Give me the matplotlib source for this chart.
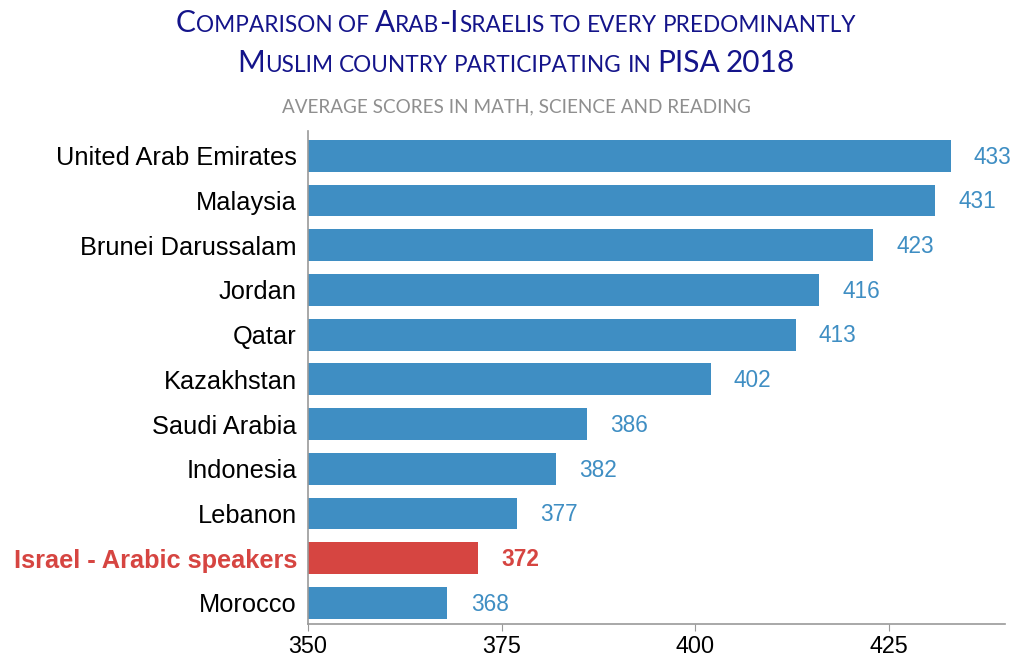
import matplotlib
matplotlib.use("Agg")
import matplotlib.pyplot as plt

# Data (top to bottom)
countries = ["United Arab Emirates", "Malaysia", "Brunei Darussalam", "Jordan", "Qatar",
             "Kazakhstan", "Saudi Arabia", "Indonesia", "Lebanon",
             "Israel - Arabic speakers", "Morocco"]
scores = [433, 431, 423, 416, 413, 402, 386, 382, 377, 372, 368]
highlight = "Israel - Arabic speakers"

BLUE = "#3f8ec3"
RED = "#d64541"
NAVY = "#14148a"
TITLE_FONT = "Lato"

fig = plt.figure(figsize=(10.18, 6.58), dpi=100)
ax = fig.add_axes([0.3026, 0.0517, 0.6844, 0.749])

ypos = list(range(len(countries)))
colors = [RED if c == highlight else BLUE for c in countries]
ax.barh(ypos, [s - 350 for s in scores], left=350, height=0.71, color=colors)

for y, s, c, col in zip(ypos, scores, countries, colors):
    ax.text(s + 3.0, y + 0.03, str(s), va="center", ha="left", color=col,
            fontsize=16.3, fontweight="bold" if c == highlight else "normal",
            family="Liberation Sans", clip_on=False)

ax.set_xlim(350, 440)
ax.set_ylim(10.47, -0.55)
ax.set_xticks([350, 375, 400, 425])
ax.set_yticks(ypos)
ax.set_yticklabels(countries, fontsize=18.3, family="Liberation Sans")
for lbl, c in zip(ax.get_yticklabels(), countries):
    if c == highlight:
        lbl.set_color(RED)
        lbl.set_fontweight("bold")
ax.tick_params(axis="y", length=0, pad=8)
ax.tick_params(axis="x", length=5, color="#999999", labelsize=16.8, pad=3)
for lbl in ax.get_xticklabels():
    lbl.set_family("Liberation Sans")
for side in ["top", "right"]:
    ax.spines[side].set_visible(False)
for side in ["left", "bottom"]:
    ax.spines[side].set_color("#999999")
    ax.spines[side].set_linewidth(1.2)


def small_caps(y, text, big, small, color):
    """Draw text centred at figure y, in fake small caps."""
    renderer = fig.canvas.get_renderer()
    figw = fig.bbox.width
    probe = fig.text(0, 0, "x x", fontsize=small, family=TITLE_FONT)
    probe2 = fig.text(0, 0, "xx", fontsize=small, family=TITLE_FONT)
    space = (probe.get_window_extent(renderer).width
             - probe2.get_window_extent(renderer).width) / figw
    probe.remove()
    probe2.remove()

    pieces = []
    x = 0.0
    words = text.split(" ")
    for i, word in enumerate(words):
        runs = []
        for ch in word:
            isbig = not ch.islower()
            if runs and runs[-1][1] == isbig:
                runs[-1][0] += ch
            else:
                runs.append([ch, isbig])
        for chunk, isbig in runs:
            t = fig.text(x, y, chunk.upper(), fontsize=big if isbig else small,
                         family=TITLE_FONT, color=color, va="baseline", ha="left")
            w = t.get_window_extent(renderer).width / figw
            pieces.append((t, x))
            x += w
        if i < len(words) - 1:
            x += space
    shift = 0.507 - x / 2
    for t, x0 in pieces:
        t.set_x(x0 + shift)


small_caps(0.951, "Comparison of Arab-Israelis to every predominantly", 21.5, 16.3, NAVY)
small_caps(0.891, "Muslim country participating in PISA 2018", 21.5, 16.3, NAVY)
fig.text(0.507, 0.829, "AVERAGE SCORES IN MATH, SCIENCE AND READING", ha="center",
         va="baseline", fontsize=13.6, color="#8f8f8f", family=TITLE_FONT)

fig.savefig("out.png", dpi=100)
